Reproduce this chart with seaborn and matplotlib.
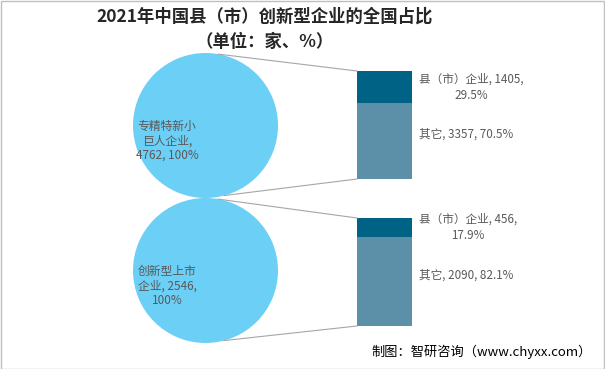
import numpy as np
import matplotlib
matplotlib.use("Agg")
import matplotlib.pyplot as plt
from matplotlib.patches import ConnectionPatch, Rectangle
import seaborn as sns

# data
groups = ["专精特新小巨人企业", "创新型上市企业"]
group_labels = ["专精特新小\n巨人企业,\n4762, 100%", "创新型上市\n企业, 2546,\n100%"]
totals = [4762, 2546]
county = [1405, 456]
other = [3357, 2090]
county_labels = ["县（市）企业, 1405,\n29.5%", "县（市）企业, 456,\n17.9%"]
other_labels = ["其它, 3357, 70.5%", "其它, 2090, 82.1%"]

sns.set_theme(style="white")
plt.rcParams['font.family'] = ['Noto Sans CJK SC', 'DejaVu Sans']

W, H = 605, 369
fig = plt.figure(figsize=(W / 100, H / 100), dpi=100)
fig.patch.set_facecolor("white")

pie_color = "#6BCFF6"
dark = "#006386"
light = "#5C90A8"
text_gray = "#595959"
line_gray = "#A6A6A6"


def fig_rect(x0, y0, x1, y1):
    # pixel box -> figure fraction
    return [x0 / W, 1 - y1 / H, (x1 - x0) / W, (y1 - y0) / H]


pie_boxes = [(133, 53, 278, 198), (133, 198, 278, 343)]
bar_boxes = [(357, 71, 412, 179), (357, 218, 412, 326)]
text_pos = [(-0.53, -0.21), (-0.53, -0.22)]

for i in range(2):
    # circle (single 100% slice)
    axp = fig.add_axes(fig_rect(*pie_boxes[i]))
    axp.pie([totals[i]], colors=[pie_color], radius=1, startangle=90,
            wedgeprops=dict(linewidth=0))
    axp.set_xlim(-1, 1)
    axp.set_ylim(-1, 1)
    axp.set_axis_off()
    axp.text(text_pos[i][0], text_pos[i][1], group_labels[i], ha="center", va="center",
             fontsize=8.5, color=text_gray, linespacing=1.15)

    # stacked bar as share of group total
    pct_county = county[i] / totals[i] * 100
    pct_other = other[i] / totals[i] * 100
    axb = fig.add_axes(fig_rect(*bar_boxes[i]))
    sns.barplot(x=[groups[i]], y=[pct_other + pct_county], color=dark, ax=axb,
                width=0.8, linewidth=0, saturation=1)
    sns.barplot(x=[groups[i]], y=[pct_other], color=light, ax=axb,
                width=0.8, linewidth=0, saturation=1)
    axb.set_xlim(-0.4, 0.4)
    axb.set_ylim(0, 100)
    axb.set_axis_off()

    axb.annotate(county_labels[i], xy=(0.4, pct_other + pct_county / 2),
                 xytext=(5, 0), textcoords="offset points", ha="left", va="center",
                 multialignment="center", fontsize=8.4, color=text_gray, linespacing=1.35)
    axb.annotate(other_labels[i], xy=(0.4, pct_other / 2),
                 xytext=(5, 5), textcoords="offset points", ha="left", va="center",
                 fontsize=8.4, color=text_gray)

    # connector lines from circle to bar
    top_ang, bot_ang = np.deg2rad(80), np.deg2rad(-75)
    for ang, yb in [(top_ang, 100), (bot_ang, 0)]:
        con = ConnectionPatch(xyA=(np.cos(ang), np.sin(ang)), coordsA=axp.transData,
                              xyB=(-0.4, yb), coordsB=axb.transData,
                              color=line_gray, linewidth=0.8)
        fig.add_artist(con)

fig.text(265 / W, 1 - 17 / H, "2021年中国县（市）创新型企业的全国占比", ha="center", va="center",
         fontsize=12.5, fontweight="bold", color="#262626")
fig.text(265 / W, 1 - 42 / H, "（单位：家、%）", ha="center", va="center",
         fontsize=12.5, fontweight="bold", color="#262626")
fig.text(592 / W, 1 - 352 / H, "制图：智研咨询（www.chyxx.com）", ha="right", va="center",
         fontsize=9.5, color="black")

fig.add_artist(Rectangle((0.5 / W, 0.5 / H), 1 - 1.5 / W, 1 - 1.5 / H, transform=fig.transFigure,
                         fill=False, edgecolor="#BFBFBF", linewidth=1))

fig.savefig("out.png", dpi=100)
